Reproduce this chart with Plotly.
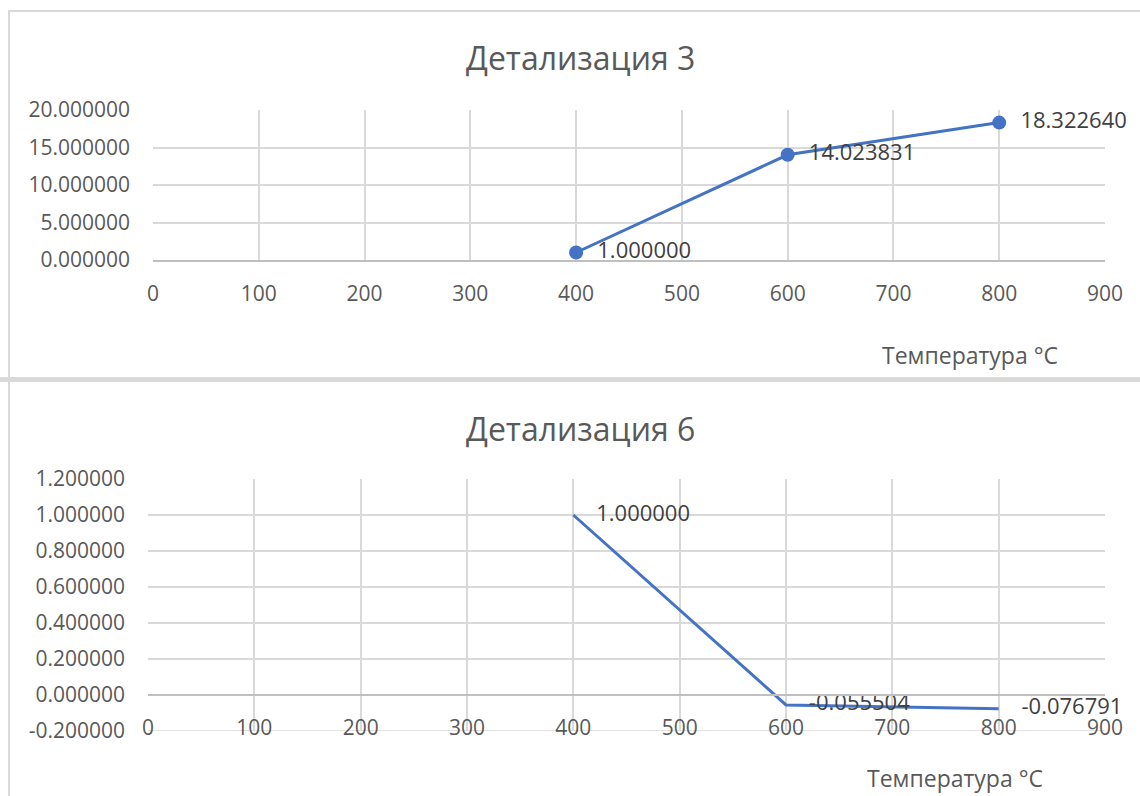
"""Two stacked Excel-style line charts: Детализация 3 and Детализация 6."""

import plotly.graph_objects as go

W, H = 1140, 796

temps = [400, 600, 800]
det3 = [1.000000, 14.023831, 18.322640]
det6 = [1.000000, -0.055504, -0.076791]
x_ticks = [0, 100, 200, 300, 400, 500, 600, 700, 800, 900]
y3_ticks = [0, 5, 10, 15, 20]
y6_ticks = [-0.2, 0, 0.2, 0.4, 0.6, 0.8, 1.0, 1.2]

_LINE = "#4472C4"
_GRID = "#d9d9d9"
_AXIS = "#bfbfbf"
_TICK = "#595959"
_LABEL = "#404040"
_FONT = "Open Sans, Liberation Sans, sans-serif"


def px_x(x):
    return x / W


def px_y(y):
    return 1 - y / H


# plot-area domains measured in pixels
top_dx = [px_x(153), px_x(1105)]
top_dy = [px_y(260), px_y(110)]
bot_dx = [px_x(148), px_x(1105)]
bot_dy = [px_y(731), px_y(479)]
bot_range = [-0.2, 1.2]
bot_zero = bot_dy[0] + (0 - bot_range[0]) / (bot_range[1] - bot_range[0]) * (bot_dy[1] - bot_dy[0])

fig = go.Figure()
fig.add_trace(
    go.Scatter(
        x=temps,
        y=det3,
        mode="lines+markers+text",
        line={"color": _LINE, "width": 3},
        marker={"color": _LINE, "size": 14},
        text=["  " + f"{v:.6f}" for v in det3],
        textposition="middle right",
        textfont={"color": _LABEL, "size": 22, "family": _FONT},
        cliponaxis=False,
        xaxis="x",
        yaxis="y",
    )
)
fig.add_trace(
    go.Scatter(
        x=temps,
        y=det6,
        mode="lines+text",
        line={"color": _LINE, "width": 3},
        text=["    " + f"{v:.6f}" for v in det6],
        textposition="middle right",
        textfont={"color": _LABEL, "size": 22, "family": _FONT},
        cliponaxis=False,
        xaxis="x2",
        yaxis="y2",
    )
)

xcommon = dict(
    range=[0, 900],
    tickvals=x_ticks,
    showgrid=True,
    gridcolor=_GRID,
    gridwidth=1.5,
    zeroline=False,
    showline=True,
    linecolor=_AXIS,
    linewidth=2,
    ticks="",
    ticklabelstandoff=14,
    tickfont={"color": _TICK, "size": 21, "family": _FONT},
    automargin=False,
    fixedrange=True,
)
ycommon = dict(
    showgrid=True,
    gridcolor=_GRID,
    gridwidth=1.5,
    zeroline=False,
    showline=False,
    ticks="",
    ticklabelstandoff=22,
    tickfont={"color": _TICK, "size": 21, "family": _FONT},
    automargin=False,
    fixedrange=True,
)

fig.update_layout(
    width=W,
    height=H,
    margin={"l": 0, "r": 0, "t": 0, "b": 0, "pad": 0},
    paper_bgcolor="white",
    plot_bgcolor="white",
    showlegend=False,
    font={"family": _FONT, "color": _TICK},
    xaxis=dict(xcommon, domain=top_dx, anchor="y"),
    yaxis=dict(
        ycommon,
        domain=top_dy,
        anchor="x",
        range=[0, 20],
        tickvals=y3_ticks,
        ticktext=[f"{v:.6f}" for v in y3_ticks],
    ),
    xaxis2=dict(xcommon, domain=bot_dx, anchor="free", position=bot_zero),
    yaxis2=dict(
        ycommon,
        domain=bot_dy,
        anchor="x2",
        range=bot_range,
        tickvals=y6_ticks,
        ticktext=[f"{v:.6f}" for v in y6_ticks],
    ),
    shapes=[
        # outer chart frames
        dict(type="rect", xref="paper", yref="paper", x0=px_x(9), x1=1.01,
             y0=px_y(379), y1=px_y(11), line={"color": _GRID, "width": 2}),
        dict(type="rect", xref="paper", yref="paper", x0=px_x(9), x1=1.01,
             y0=-0.01, y1=px_y(381), line={"color": _GRID, "width": 2}),
        # separator band between charts
        dict(type="rect", xref="paper", yref="paper", x0=0, x1=1,
             y0=px_y(382), y1=px_y(377), fillcolor=_GRID, line={"width": 0}),
        # bottom plot edge gridline
        dict(type="line", xref="x2", yref="y2", x0=0, x1=900, y0=-0.2, y1=-0.2,
             line={"color": _GRID, "width": 1.5}, layer="below"),
    ],
    annotations=[
        dict(text="Детализация 3", x=px_x(580), y=px_y(57), xref="paper", yref="paper",
             xanchor="center", yanchor="middle",
             showarrow=False, font={"size": 32, "color": _TICK, "family": _FONT}),
        dict(text="Температура °C", x=px_x(970), y=px_y(355), xref="paper", yref="paper",
             xanchor="center", yanchor="middle",
             showarrow=False, font={"size": 23, "color": _TICK, "family": _FONT}),
        dict(text="Детализация 6", x=px_x(580), y=px_y(428), xref="paper", yref="paper",
             xanchor="center", yanchor="middle",
             showarrow=False, font={"size": 32, "color": _TICK, "family": _FONT}),
        dict(text="Температура °C", x=px_x(955), y=px_y(778), xref="paper", yref="paper",
             xanchor="center", yanchor="middle",
             showarrow=False, font={"size": 23, "color": _TICK, "family": _FONT}),
    ],
)

fig.write_html(
    "out.html",
    config={"displayModeBar": False},
    post_script="document.body.style.margin='0';document.body.style.overflow='hidden';",
)
